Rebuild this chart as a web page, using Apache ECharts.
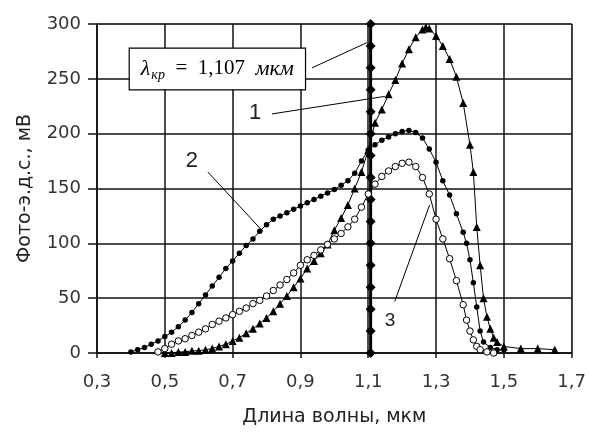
<!DOCTYPE html>
<html>
<head>
<meta charset="utf-8">
<script src="https://cdn.jsdelivr.net/npm/echarts@6/dist/echarts.min.js"></script>
<style>
html,body{margin:0;padding:0;background:#fff;}
#container{width:589px;height:432px;}
</style>
</head>
<body>
<div id="container"></div>
<script>
// кривая 1 (треугольники)
var curve1 = [
  [0.50,0],[0.52,0],[0.54,1],[0.56,1],[0.58,2],[0.60,2],[0.62,3],[0.64,4],[0.66,6],[0.68,8],
  [0.70,11],[0.72,14],[0.74,18],[0.76,22],[0.78,27],[0.80,32],[0.82,38],[0.84,45],[0.86,52],[0.88,60],
  [0.90,68],[0.92,77],[0.94,84],[0.96,91],[0.98,99],[1.00,112],[1.02,123],[1.04,135],[1.06,150],[1.08,165],
  [1.10,185],[1.12,210],[1.14,222],[1.16,236],[1.18,249],[1.20,264],[1.22,277],[1.24,288],[1.26,295],[1.27,297],
  [1.28,296],[1.30,289],[1.32,280],[1.34,268],[1.36,252],[1.38,228],[1.40,190],[1.41,165],[1.42,115],[1.43,80],
  [1.44,50],[1.45,33],[1.46,22],[1.47,14],[1.48,10],[1.50,6],[1.55,4],[1.60,4],[1.65,3]
];
// кривая 2 (точки)
var curve2 = [
  [0.40,1],[0.42,3],[0.44,5],[0.46,8],[0.48,11],[0.50,15],[0.52,19],[0.54,24],[0.56,30],[0.58,37],
  [0.60,45],[0.62,53],[0.64,61],[0.66,69],[0.68,77],[0.70,84],[0.72,91],[0.74,98],[0.76,104],[0.78,111],
  [0.80,117],[0.82,122],[0.84,125],[0.86,128],[0.88,131],[0.90,134],[0.92,137],[0.94,140],[0.96,143],[0.98,146],
  [1.00,149],[1.02,153],[1.04,157],[1.06,164],[1.08,175],[1.10,185],[1.12,190],[1.14,194],[1.16,197],[1.18,200],
  [1.20,202],[1.22,203],[1.24,201],[1.26,196],[1.28,186],[1.30,174],[1.32,157],[1.34,144],[1.36,127],[1.38,110],
  [1.39,100],[1.40,85],[1.41,64],[1.42,42],[1.43,20],[1.44,10],[1.46,5],[1.48,3],[1.50,3]
];
// кривая 3 (кружки)
var curve3 = [
  [0.48,1],[0.50,4],[0.52,8],[0.54,11],[0.56,13],[0.58,16],[0.60,19],[0.62,22],[0.64,26],[0.66,29],
  [0.68,32],[0.70,35],[0.72,38],[0.74,41],[0.76,45],[0.78,48],[0.80,52],[0.82,57],[0.84,62],[0.86,67],
  [0.88,73],[0.90,80],[0.92,85],[0.94,89],[0.96,94],[0.98,99],[1.00,104],[1.02,109],[1.04,115],[1.06,122],
  [1.08,133],[1.10,145],[1.12,154],[1.14,161],[1.16,166],[1.18,170],[1.20,173],[1.22,174],[1.24,170],[1.26,160],
  [1.28,145],[1.30,122],[1.32,104],[1.34,86],[1.36,66],[1.38,44],[1.39,30],[1.40,20],[1.41,12],[1.42,6],
  [1.43,3],[1.45,1],[1.47,0]
];
// граничная длина волны
var lambdaKr = 1.107;
var lambdaY = [0,20,40,60,80,100,120,140,160,180,200,220,240,260,280,300];

// подписи: [текст, x, y, размер] и выноски [x1,y1,x2,y2] в координатах данных
var labels = [['1',0.766,219,22],['2',0.58,175,22],['3',1.164,29,19]];
var leaders = [[0.816,218,1.149,234],[0.627,165,0.789,111],[1.178,47,1.281,135],[0.934,260,1.096,283]];

var xTicks = {min:0.3,max:1.7,interval:0.2};
var yTicks = {min:0,max:300,interval:50};

var myChart = echarts.init(document.getElementById('container'));

function fmt(v){ return v.toFixed(1).replace('.',','); }

var option = {
  backgroundColor:'#fff',
  animation:false,
  grid:{left:97,right:17,top:24,bottom:78,show:true,borderColor:'#8a8a8a',borderWidth:1},
  xAxis:{
    type:'value',min:xTicks.min,max:xTicks.max,interval:xTicks.interval,
    name:'Длина волны, мкм',nameLocation:'middle',nameGap:55,
    nameTextStyle:{fontFamily:'DejaVu Sans',fontSize:19,color:'#222'},
    axisLine:{show:true,onZero:false,lineStyle:{color:'#111',width:1.5}},
    axisTick:{show:true,length:5,lineStyle:{color:'#111',width:1.5}},
    axisLabel:{margin:20,fontFamily:'DejaVu Sans',fontSize:18,color:'#333',formatter:fmt},
    splitLine:{show:true,lineStyle:{color:'#111',width:1.5}}
  },
  yAxis:{
    type:'value',min:yTicks.min,max:yTicks.max,interval:yTicks.interval,
    name:'Фото-э.д.с., мВ',nameLocation:'middle',nameGap:62,
    nameTextStyle:{fontFamily:'DejaVu Sans',fontSize:19,color:'#222'},
    axisLine:{show:true,lineStyle:{color:'#111',width:1.5}},
    axisTick:{show:true,length:9,lineStyle:{color:'#111',width:1.5}},
    axisLabel:{margin:16,fontFamily:'DejaVu Sans',fontSize:18,color:'#333'},
    splitLine:{show:true,lineStyle:{color:'#111',width:1.5}}
  },
  series:[{
    name:'λ',type:'line',data:lambdaY.map(function(y){return [lambdaKr,y];}),
    symbol:'diamond',symbolSize:10,itemStyle:{color:'#000'},
    lineStyle:{color:'#000',width:3},z:3
  },{
    name:'1',type:'line',data:curve1,symbol:'triangle',symbolSize:8,
    itemStyle:{color:'#000'},lineStyle:{color:'#000',width:1},z:4
  },{
    name:'2',type:'line',data:curve2,symbol:'circle',symbolSize:5.5,
    itemStyle:{color:'#000'},lineStyle:{color:'#000',width:1},z:4
  },{
    name:'3',type:'line',data:curve3,symbol:'circle',symbolSize:6.5,
    itemStyle:{color:'#fff',borderColor:'#000',borderWidth:1},lineStyle:{color:'#000',width:1},z:4
  }]
};
myChart.setOption(option);

// выноски и подписи
var g = [];
leaders.forEach(function(l){
  var a = myChart.convertToPixel({gridIndex:0},[l[0],l[1]]);
  var b = myChart.convertToPixel({gridIndex:0},[l[2],l[3]]);
  g.push({type:'line',z:10,shape:{x1:a[0],y1:a[1],x2:b[0],y2:b[1]},style:{stroke:'#000',lineWidth:1}});
});
labels.forEach(function(t){
  var p = myChart.convertToPixel({gridIndex:0},[t[1],t[2]]);
  g.push({type:'text',z:10,x:p[0],y:p[1],style:{text:t[0],fontFamily:'Liberation Sans',fontSize:t[3],fill:'#222',align:'center',verticalAlign:'middle'}});
});
var bl = myChart.convertToPixel({gridIndex:0},[0.395,278]);
var br = myChart.convertToPixel({gridIndex:0},[0.915,240]);
g.push({type:'rect',z:10,shape:{x:bl[0],y:bl[1],width:br[0]-bl[0],height:br[1]-bl[1]},
  style:{fill:'#fff',stroke:'#000',lineWidth:1.2}});
g.push({type:'text',z:11,x:(bl[0]+br[0])/2,y:(bl[1]+br[1])/2,style:{
  text:'{i|λ}{s|кр}{r|  =  1,107  }{i|мкм}',align:'center',verticalAlign:'middle',
  rich:{
    i:{fontFamily:'Liberation Serif',fontStyle:'italic',fontSize:22,fill:'#000'},
    s:{fontFamily:'Liberation Serif',fontStyle:'italic',fontSize:14,fill:'#000',padding:[12,0,0,1]},
    r:{fontFamily:'Liberation Serif',fontSize:21,fill:'#000'}
  }}});
myChart.setOption({graphic:g});
</script>
</body>
</html>
